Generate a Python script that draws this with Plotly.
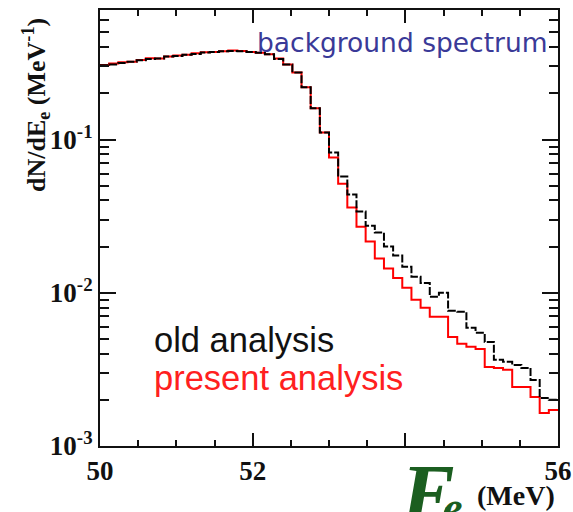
import numpy as np
import plotly.graph_objects as go

# ---------------- data ----------------
E_MIN, E_MAX = 50.0, 56.0
old_analysis = [0.305, 0.309, 0.316, 0.322, 0.329, 0.335, 0.338, 0.348, 0.351, 0.358,
                0.362, 0.369, 0.372, 0.376, 0.378, 0.376, 0.373, 0.368, 0.360, 0.335,
                0.309, 0.274, 0.219, 0.160, 0.111, 0.0822, 0.0573, 0.0437, 0.0339, 0.0274,
                0.0247, 0.0200, 0.0175, 0.0148, 0.0127, 0.0116, 0.00941, 0.0100, 0.00762, 0.00751,
                0.00590, 0.00548, 0.00478, 0.00365, 0.00354, 0.00338, 0.00323, 0.00270, 0.00206, 0.00200]
present_analysis = [0.306, 0.313, 0.319, 0.322, 0.330, 0.339, 0.338, 0.348, 0.353, 0.358,
                    0.366, 0.371, 0.372, 0.377, 0.381, 0.378, 0.373, 0.368, 0.360, 0.338,
                    0.309, 0.274, 0.219, 0.160, 0.111, 0.0762, 0.0515, 0.0360, 0.0270, 0.0216,
                    0.0167, 0.0144, 0.0125, 0.0108, 0.0090, 0.00798, 0.00697, 0.00697, 0.00515, 0.00464,
                    0.00444, 0.00430, 0.00328, 0.00323, 0.00314, 0.00243, 0.00243, 0.00209, 0.00164, 0.00172]
x_tickvals = [50, 52, 54, 56]
x_ticktext = ["50", "52", "", "56"]
y_tickvals = [1e-3, 1e-2, 1e-1]
y_ticktext = ["10<sup>-3</sup>", "10<sup>-2</sup>", "10<sup>-1</sup>"]

n = len(old_analysis)
edges = np.linspace(E_MIN, E_MAX, n + 1)

def steps(vals):
    return list(edges), list(vals) + [vals[-1]]

W, H = 573, 512
L, R, T, B = 100, 15, 10, 66
PW, PH = W - L - R, H - T - B

def px(x):
    return (x - L) / PW

def py(y):
    return (H - B - y) / PH

fig = go.Figure()
xs, ys = steps(present_analysis)
fig.add_trace(go.Scatter(x=xs, y=ys, mode="lines", line=dict(shape="hv", color="#ff0000", width=2),
                         showlegend=False, hoverinfo="skip"))
xs, ys = steps(old_analysis)
fig.add_trace(go.Scatter(x=xs, y=ys, mode="lines",
                         line=dict(shape="hv", color="#000000", width=2, dash="8px,2px"),
                         showlegend=False, hoverinfo="skip"))

minor_y = [k * 10.0 ** e for e in (-3, -2, -1) for k in range(2, 10) if k * 10.0 ** e < 0.7]

fig.update_xaxes(range=[E_MIN, E_MAX], showline=True, linecolor="#111", linewidth=2, mirror="allticks",
                 ticks="inside", ticklen=13, tickwidth=2, tickcolor="#111", automargin=False,
                 tickvals=x_tickvals, ticktext=x_ticktext,
                 tickfont=dict(family="Liberation Serif", size=27, color="#111", weight="bold"),
                 minor=dict(ticks="inside", ticklen=6, tickwidth=2, tickcolor="#111", dtick=0.5, showgrid=False),
                 showgrid=False, zeroline=False)
fig.update_yaxes(type="log", range=[-3, np.log10(0.7)], showline=True, linecolor="#111", linewidth=2,
                 mirror="allticks", ticks="inside", ticklen=16, tickwidth=2, tickcolor="#111", automargin=False,
                 tickvals=y_tickvals, ticktext=y_ticktext,
                 tickfont=dict(family="Liberation Serif", size=27, color="#111", weight="bold"),
                 minor=dict(ticks="inside", ticklen=9, tickwidth=2, tickcolor="#111", tickvals=minor_y,
                            showgrid=False),
                 showgrid=False, zeroline=False)

ann = []
ann.append(dict(text="background spectrum", x=px(550), y=py(42), xref="paper", yref="paper",
                xanchor="right", yanchor="middle", showarrow=False,
                font=dict(family="DejaVu Sans", size=26.5, color="#3a3a98")))
ann.append(dict(text="old analysis", x=px(152), y=py(340), xref="paper", yref="paper",
                xanchor="left", yanchor="middle", showarrow=False,
                font=dict(family="Liberation Sans", size=34.5, color="#111111")))
ann.append(dict(text="present analysis", x=px(152), y=py(378), xref="paper", yref="paper",
                xanchor="left", yanchor="middle", showarrow=False,
                font=dict(family="Liberation Sans", size=34.5, color="#ff2020")))
ann.append(dict(text="dN/dE<sub>e</sub> (MeV<sup>-1</sup>)", x=px(36), y=py(105), xref="paper", yref="paper",
                xanchor="center", yanchor="middle", showarrow=False, textangle=-90,
                font=dict(family="Liberation Serif", size=26, color="#111", weight="bold")))
ann.append(dict(text="<i>E</i>", x=px(398), y=py(446), xref="paper", yref="paper",
                xanchor="left", yanchor="top", showarrow=False,
                font=dict(family="Liberation Serif", size=84, color="#1b5e20", weight="bold")))
ann.append(dict(text="<i>e</i>", x=px(441), y=py(481), xref="paper", yref="paper",
                xanchor="left", yanchor="top", showarrow=False,
                font=dict(family="Liberation Serif", size=44, color="#1b5e20", weight="bold")))
ann.append(dict(text="(MeV)", x=px(475), y=py(495), xref="paper", yref="paper",
                xanchor="left", yanchor="middle", showarrow=False,
                font=dict(family="Liberation Serif", size=28, color="#111", weight="bold")))

fig.update_layout(width=W, height=H, margin=dict(l=L, r=R, t=T, b=B),
                  paper_bgcolor="white", plot_bgcolor="white", annotations=ann)

fig.write_html("out.html")
